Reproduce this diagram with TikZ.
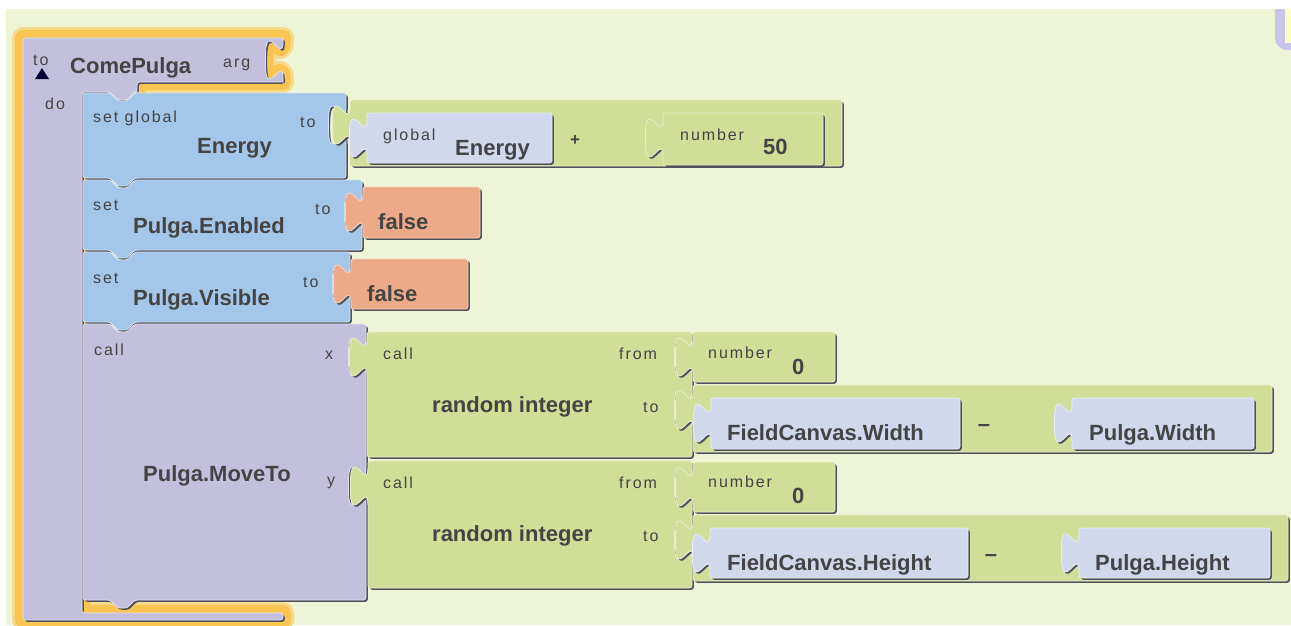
\documentclass[tikz,border=0pt]{standalone}
\usepackage{fontspec}
\setmainfont{Liberation Sans}
\newfontfamily\lblfont[LetterSpace=12]{Liberation Sans}
\definecolor{bg}{RGB}{238,244,214}
\definecolor{glow}{RGB}{250,196,80}
\definecolor{procc}{RGB}{195,192,221}
\definecolor{bluec}{RGB}{164,198,232}
\definecolor{greenc}{RGB}{208,222,152}
\definecolor{orangec}{RGB}{236,170,136}
\definecolor{getc}{RGB}{209,216,236}
\definecolor{txt}{RGB}{68,68,68}
\definecolor{shd}{RGB}{80,80,92}
\definecolor{tpurple}{RGB}{200,196,236}
\definecolor{tyellow}{RGB}{255,255,196}
\newcommand\tbx{2.2}
\newcommand\tby{2.8}
% socket cut into a right edge, going down from y=#2
\newcommand\socketR[2]{-- ({#1},{#2}) .. controls ({#1},{#2+10*\tby}) and ({#1-8*\tbx},{#2-8*\tby}) .. ({#1-8*\tbx},{#2+7.5*\tby}) .. controls ({#1-8*\tbx},{#2+23*\tby}) and ({#1},{#2+5*\tby}) .. ({#1},{#2+15*\tby})}
% tab on a left edge, going up to y=#2
\newcommand\tabL[2]{-- ({#1},{#2+15*\tby}) .. controls ({#1},{#2+5*\tby}) and ({#1-8*\tbx},{#2+23*\tby}) .. ({#1-8*\tbx},{#2+7.5*\tby}) .. controls ({#1-8*\tbx},{#2-8*\tby}) and ({#1},{#2+10*\tby}) .. ({#1},{#2})}
% value block: x0,y0,x1,y1,sockets
\newcommand\valpath[5]{({#1},{#2}) -- ({#3},{#2}) #5 -- ({#3},{#4}) -- ({#1},{#4}) \tabL{#1}{#2+4} -- cycle}
% statement block: x0,y0,x1,y1,sockets
\newcommand\stpath[5]{({#1},{#2}) -- ({#1+27},{#2}) -- ({#1+35},{#2+8}) -- ({#1+44},{#2+8}) -- ({#1+52},{#2}) -- ({#3},{#2}) #5 -- ({#3},{#4}) -- ({#1+52},{#4}) -- ({#1+44},{#4+8}) -- ({#1+35},{#4+8}) -- ({#1+27},{#4}) -- ({#1},{#4}) -- cycle}
\newcommand\outerpath{(23,38) -- (283,38) \socketR{283}{39} -- (283,82) -- (137,82) -- (137,92) -- (135,92) -- (127,100) -- (118,100) -- (110,92) -- (82,92) -- (82,613) -- (283,613) -- (283,620) -- (23,620) -- cycle}
\newcommand\blk[2]{%
  \fill[shd,shift={(1.8,1.8)},rounded corners=2.5] #2;
  \fill[#1,rounded corners=2.5] #2;
  \draw[#1!50!white,line width=0.8,rounded corners=2.5] #2;
}
\tikzset{
  bigt/.style={font=\fontsize{22}{24}\selectfont\bfseries, text=txt, inner sep=0pt, anchor=base west},
  smallt/.style={font=\lblfont\fontsize{16}{18}\selectfont, text=txt, inner sep=0pt, anchor=base west},
  opt/.style={font=\fontsize{22}{24}\selectfont\bfseries, text=txt, inner sep=0pt, anchor=center},
}
\begin{document}
\begin{tikzpicture}[x=1pt,y=-1pt]
\useasboundingbox (0,0) rectangle (1291,625);
\fill[white] (0,0) rectangle (1291,625);
\fill[bg] (6,9) rectangle (1291,625);
% partial element at top right
\begin{scope}
\clip (1200,9) rectangle (1291,625);
\fill[tpurple,rounded corners=12] (1275,-20) rectangle (1320,50);
\fill[tyellow] (1285,9) rectangle (1295,43);
\end{scope}
% procedure block with selection glow
\draw[glow!55!bg,line width=22,line join=round] \outerpath;
\draw[glow,line width=16,line join=round] \outerpath;
\blk{procc}{\outerpath}
% set global Energy
\blk{bluec}{\stpath{83}{93}{346}{178}{\socketR{346}{104}}}
\blk{greenc}{\valpath{350}{100}{842}{166}{}}
\blk{getc}{\valpath{367}{113}{552}{163}{}}
\blk{greenc}{\valpath{663}{113}{823}{165}{}}
% set Pulga.Enabled
\blk{bluec}{\stpath{83}{180}{362}{250}{\socketR{362}{191}}}
\blk{orangec}{\valpath{363}{187}{480}{238}{}}
% set Pulga.Visible
\blk{bluec}{\stpath{83}{252}{350}{322}{\socketR{350}{263}}}
\blk{orangec}{\valpath{351}{259}{468}{309}{}}
% call Pulga.MoveTo
\blk{procc}{\stpath{83}{324}{366}{600}{\socketR{366}{336}\socketR{366}{465}}}
% random integer (x)
\blk{greenc}{\valpath{367}{332}{692}{457}{\socketR{692}{336}\socketR{692}{389}}}
\blk{greenc}{\valpath{693}{332}{835}{382}{}}
\blk{greenc}{\valpath{693}{385}{1272}{452}{}}
\blk{getc}{\valpath{711}{398}{960}{449}{}}
\blk{getc}{\valpath{1072}{398}{1254}{449}{}}
% random integer (y)
\blk{greenc}{\valpath{368}{461}{692}{588}{\socketR{692}{466}\socketR{692}{519}}}
\blk{greenc}{\valpath{693}{462}{835}{512}{}}
\blk{greenc}{\valpath{693}{515}{1288}{581}{}}
\blk{getc}{\valpath{710}{528}{968}{578}{}}
\blk{getc}{\valpath{1079}{528}{1270}{578}{}}
% texts
\node[smallt] (hto) at (33,65) {to};
\fill[black!80!blue] (35,79) -- (49,79) -- (42,68) -- cycle;
\node[bigt] (hname) at (70,73) {ComePulga};
\node[smallt] (harg) at (223,67) {arg};
\node[smallt] (hdo) at (45,109) {do};
\node[smallt] (e1) at (93,122) {set global};
\node[smallt] (e2) at (300,127) {to};
\node[bigt] (e3) at (197,153) {Energy};
\node[opt,font=\fontsize{17}{19}\selectfont\bfseries] (plus) at (575,141) {+};
\node[smallt] (g1) at (383,140) {global};
\node[bigt] (g2) at (455,155) {Energy};
\node[smallt] (n1) at (680,140) {number};
\node[bigt] (n2) at (763,154) {50};
\node[smallt] (en1) at (93,210) {set};
\node[bigt] (en2) at (133,233) {Pulga.Enabled};
\node[smallt] (en3) at (315,214) {to};
\node[bigt] (f1) at (378,229) {false};
\node[smallt] (v1) at (93,283) {set};
\node[bigt] (v2) at (133,305) {Pulga.Visible};
\node[smallt] (v3) at (303,287) {to};
\node[bigt] (f2) at (367,301) {false};
\node[smallt] (m1) at (94,355) {call};
\node[bigt] (m2) at (143,481) {Pulga.MoveTo};
\node[smallt] (mx) at (325,359) {x};
\node[smallt] (my) at (327,485) {y};
\node[smallt] (r1a) at (383,359) {call};
\node[bigt] (r1b) at (432,412) {random integer};
\node[smallt] (r1c) at (619,359) {from};
\node[smallt] (r1d) at (643,412) {to};
\node[smallt] (z1a) at (708,358) {number};
\node[bigt] (z1b) at (792,374) {0};
\node[bigt] (w1) at (727,440) {FieldCanvas.Width};
\node[opt] (d1) at (984,428) {–};
\node[bigt] (w2) at (1089,440) {Pulga.Width};
\node[smallt] (r2a) at (383,488) {call};
\node[bigt] (r2b) at (432,541) {random integer};
\node[smallt] (r2c) at (619,488) {from};
\node[smallt] (r2d) at (643,541) {to};
\node[smallt] (z2a) at (708,487) {number};
\node[bigt] (z2b) at (792,503) {0};
\node[bigt] (h1) at (727,570) {FieldCanvas.Height};
\node[opt] (d2) at (991,558) {–};
\node[bigt] (h2) at (1095,570) {Pulga.Height};
\end{tikzpicture}
\end{document}
